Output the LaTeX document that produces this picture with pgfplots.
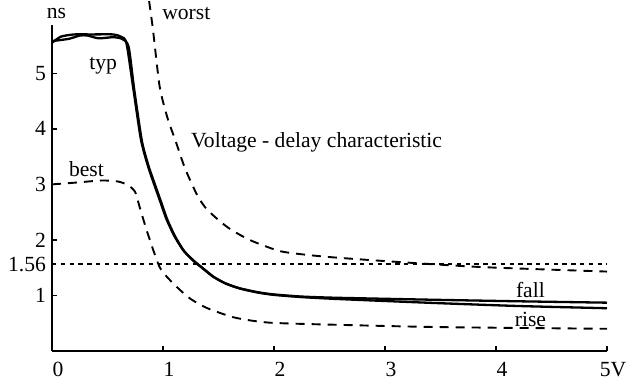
\documentclass[border=0pt]{standalone}
\usepackage{pgfplots}
\pgfplotsset{compat=1.18}
\usepackage{fontspec}
\setmainfont{Liberation Serif}
\begin{document}
\begin{tikzpicture}
\useasboundingbox (0,0) rectangle (316pt,191.5pt);
\begin{axis}[
  at={(26pt,16pt)}, anchor=south west,
  scale only axis, width=277.5pt, height=163pt,
  xmin=0, xmax=5, ymin=0, ymax=5.87,
  axis lines=left, axis line style={-, line width=0.9pt},
  xtick={0,1,2,3,4,5}, xticklabels={0,1,2,3,4,5V},
  ytick={1,2,3,4,5},
  extra y ticks={1.56}, extra y tick labels={1.56},
  extra y tick style={major tick length=0pt},
  tick align=inside, major tick length=2.5pt,
  tick style={black, line width=0.7pt},
  tick label style={font=\fontsize{10.8}{12}\selectfont},
  yticklabel style={xshift=0.5pt},
  xticklabel style={xshift=3pt, yshift=-2pt},
  /pgf/number format/assume math mode=true,
  clip=false,
]
% fall (typ upper)
\addplot[black, line width=1.15pt, smooth, tension=0.4] coordinates {
(0,5.55) (0.08,5.66) (0.2,5.70) (0.35,5.70) (0.55,5.70) (0.62,5.66) (0.67,5.55)
(0.73,4.76) (0.80,3.82) (0.86,3.36) (0.91,3.06) (0.97,2.72) (1.03,2.38) (1.10,2.08)
(1.18,1.82) (1.27,1.63) (1.35,1.50) (1.45,1.34) (1.56,1.22) (1.69,1.13) (1.85,1.06)
(1.99,1.02) (2.25,0.98) (2.53,0.96) (3.0,0.94) (3.5,0.92) (4.2,0.895) (5,0.87)};
% rise (typ lower)
\addplot[black, line width=1.15pt, smooth, tension=0.4] coordinates {
(0,5.58) (0.15,5.62) (0.25,5.68) (0.32,5.68) (0.42,5.63) (0.55,5.65) (0.63,5.62) (0.69,5.48)
(0.74,4.72) (0.81,3.78) (0.87,3.33) (0.92,3.04) (0.98,2.70) (1.04,2.36) (1.11,2.06)
(1.19,1.80) (1.28,1.62) (1.36,1.49) (1.46,1.33) (1.57,1.21) (1.70,1.12) (1.86,1.05)
(2.0,1.01) (2.25,0.97) (2.53,0.94) (3.0,0.90) (3.5,0.86) (4.2,0.81) (5,0.77)};
% worst
\addplot[black, line width=0.95pt, dash pattern=on 4.5pt off 3.5pt, smooth, tension=0.4] coordinates {
(0.875,6.3) (0.91,5.78) (0.97,4.76) (1.04,4.20) (1.11,3.80) (1.20,3.28) (1.31,2.80)
(1.40,2.54) (1.58,2.23) (1.78,2.0) (2.05,1.80) (2.30,1.73) (2.57,1.68) (3.14,1.60)
(3.88,1.51) (5,1.43)};
% best
\addplot[black, line width=0.95pt, dash pattern=on 4.5pt off 3.5pt, smooth, tension=0.4] coordinates {
(0,3.0) (0.2,3.03) (0.45,3.07) (0.6,3.05) (0.69,2.98) (0.75,2.86) (0.79,2.59)
(0.86,2.13) (0.97,1.51) (1.09,1.22) (1.24,0.95) (1.40,0.77) (1.65,0.60) (1.96,0.51)
(2.6,0.47) (3.5,0.43) (5,0.40)};
% 1.56 line
\addplot[black, line width=0.9pt, dash pattern=on 2.2pt off 2.2pt] coordinates {(0,1.56) (5,1.56)};
\node[font=\fontsize{10.8}{12}\selectfont] at (axis cs:0.04,6.07) {ns};
\node[font=\fontsize{10.8}{12}\selectfont, anchor=west] at (axis cs:0.93,6.08) {worst};
\node[font=\fontsize{10.8}{12}\selectfont] at (axis cs:0.46,5.14) {typ};
\node[font=\fontsize{10.8}{12}\selectfont] at (axis cs:0.31,3.28) {best};
\node[font=\fontsize{10.8}{12}\selectfont, anchor=west] at (axis cs:1.19,3.75) {Voltage - delay characteristic};
\node[font=\fontsize{10.8}{12}\selectfont] at (axis cs:4.31,1.09) {fall};
\node[font=\fontsize{10.8}{12}\selectfont] at (axis cs:4.31,0.56) {rise};
\end{axis}
\end{tikzpicture}
\end{document}
